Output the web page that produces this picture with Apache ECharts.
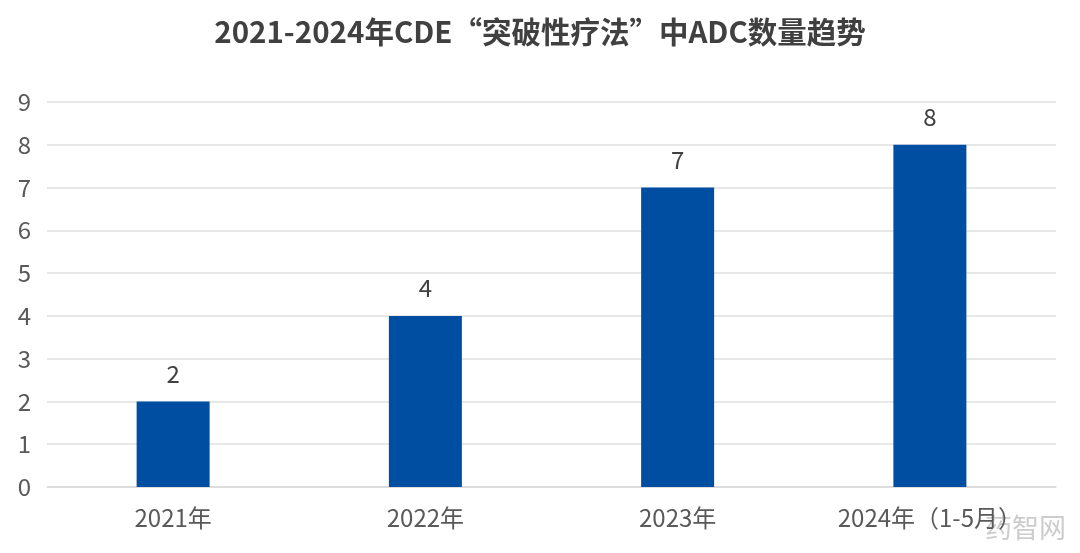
<!DOCTYPE html>
<html><head><meta charset="utf-8">
<script src="https://cdn.jsdelivr.net/npm/echarts@6/dist/echarts.min.js"></script>
<style>html,body{margin:0;padding:0;background:#fff}#c{width:1080px;height:553px}</style>
</head><body><div id="c"></div>
<script>
const title = '2021-2024年CDE“突破性疗法”中ADC数量趋势';
const categories = ['2021年', '2022年', '2023年', '2024年（1-5月）'];
const values = [2, 4, 7, 8];
const yTicks = [0, 1, 2, 3, 4, 5, 6, 7, 8, 9];

const font = '"Noto Sans CJK SC", "Noto Sans", sans-serif';
const chart = echarts.init(document.getElementById('c'));
chart.setOption({
  backgroundColor: '#fff',
  animation: false,
  title: {
    text: title, left: 'center', top: 12,
    textStyle: { fontFamily: font, fontSize: 29.5, fontWeight: 'bold', color: '#404040' }
  },
  grid: { left: 47, right: 24, top: 102, bottom: 66 },
  xAxis: {
    type: 'category', data: categories,
    axisLine: { lineStyle: { color: '#d9d9d9', width: 1.5 } },
    axisTick: { show: false },
    axisLabel: { fontFamily: font, fontSize: 24, color: '#595959', margin: 19 }
  },
  yAxis: {
    type: 'value', min: yTicks[0], max: yTicks[yTicks.length - 1], interval: 1,
    axisLine: { show: false }, axisTick: { show: false },
    splitLine: { lineStyle: { color: '#e0e0e0', width: 1.5 } },
    axisLabel: { fontFamily: font, fontSize: 24, color: '#595959', margin: 16 }
  },
  series: [{
    type: 'bar', data: values, barWidth: 73,
    itemStyle: { color: '#004EA2' },
    label: { show: true, position: 'top', distance: 16, fontFamily: font, fontSize: 24, color: '#404040' }
  }],
  graphic: [{
    type: 'text', right: 14, bottom: 12,
    style: { text: '药智网', fontFamily: font, fontSize: 27, fill: 'rgba(170,170,170,0.6)' }
  }]
});
</script></body></html>
